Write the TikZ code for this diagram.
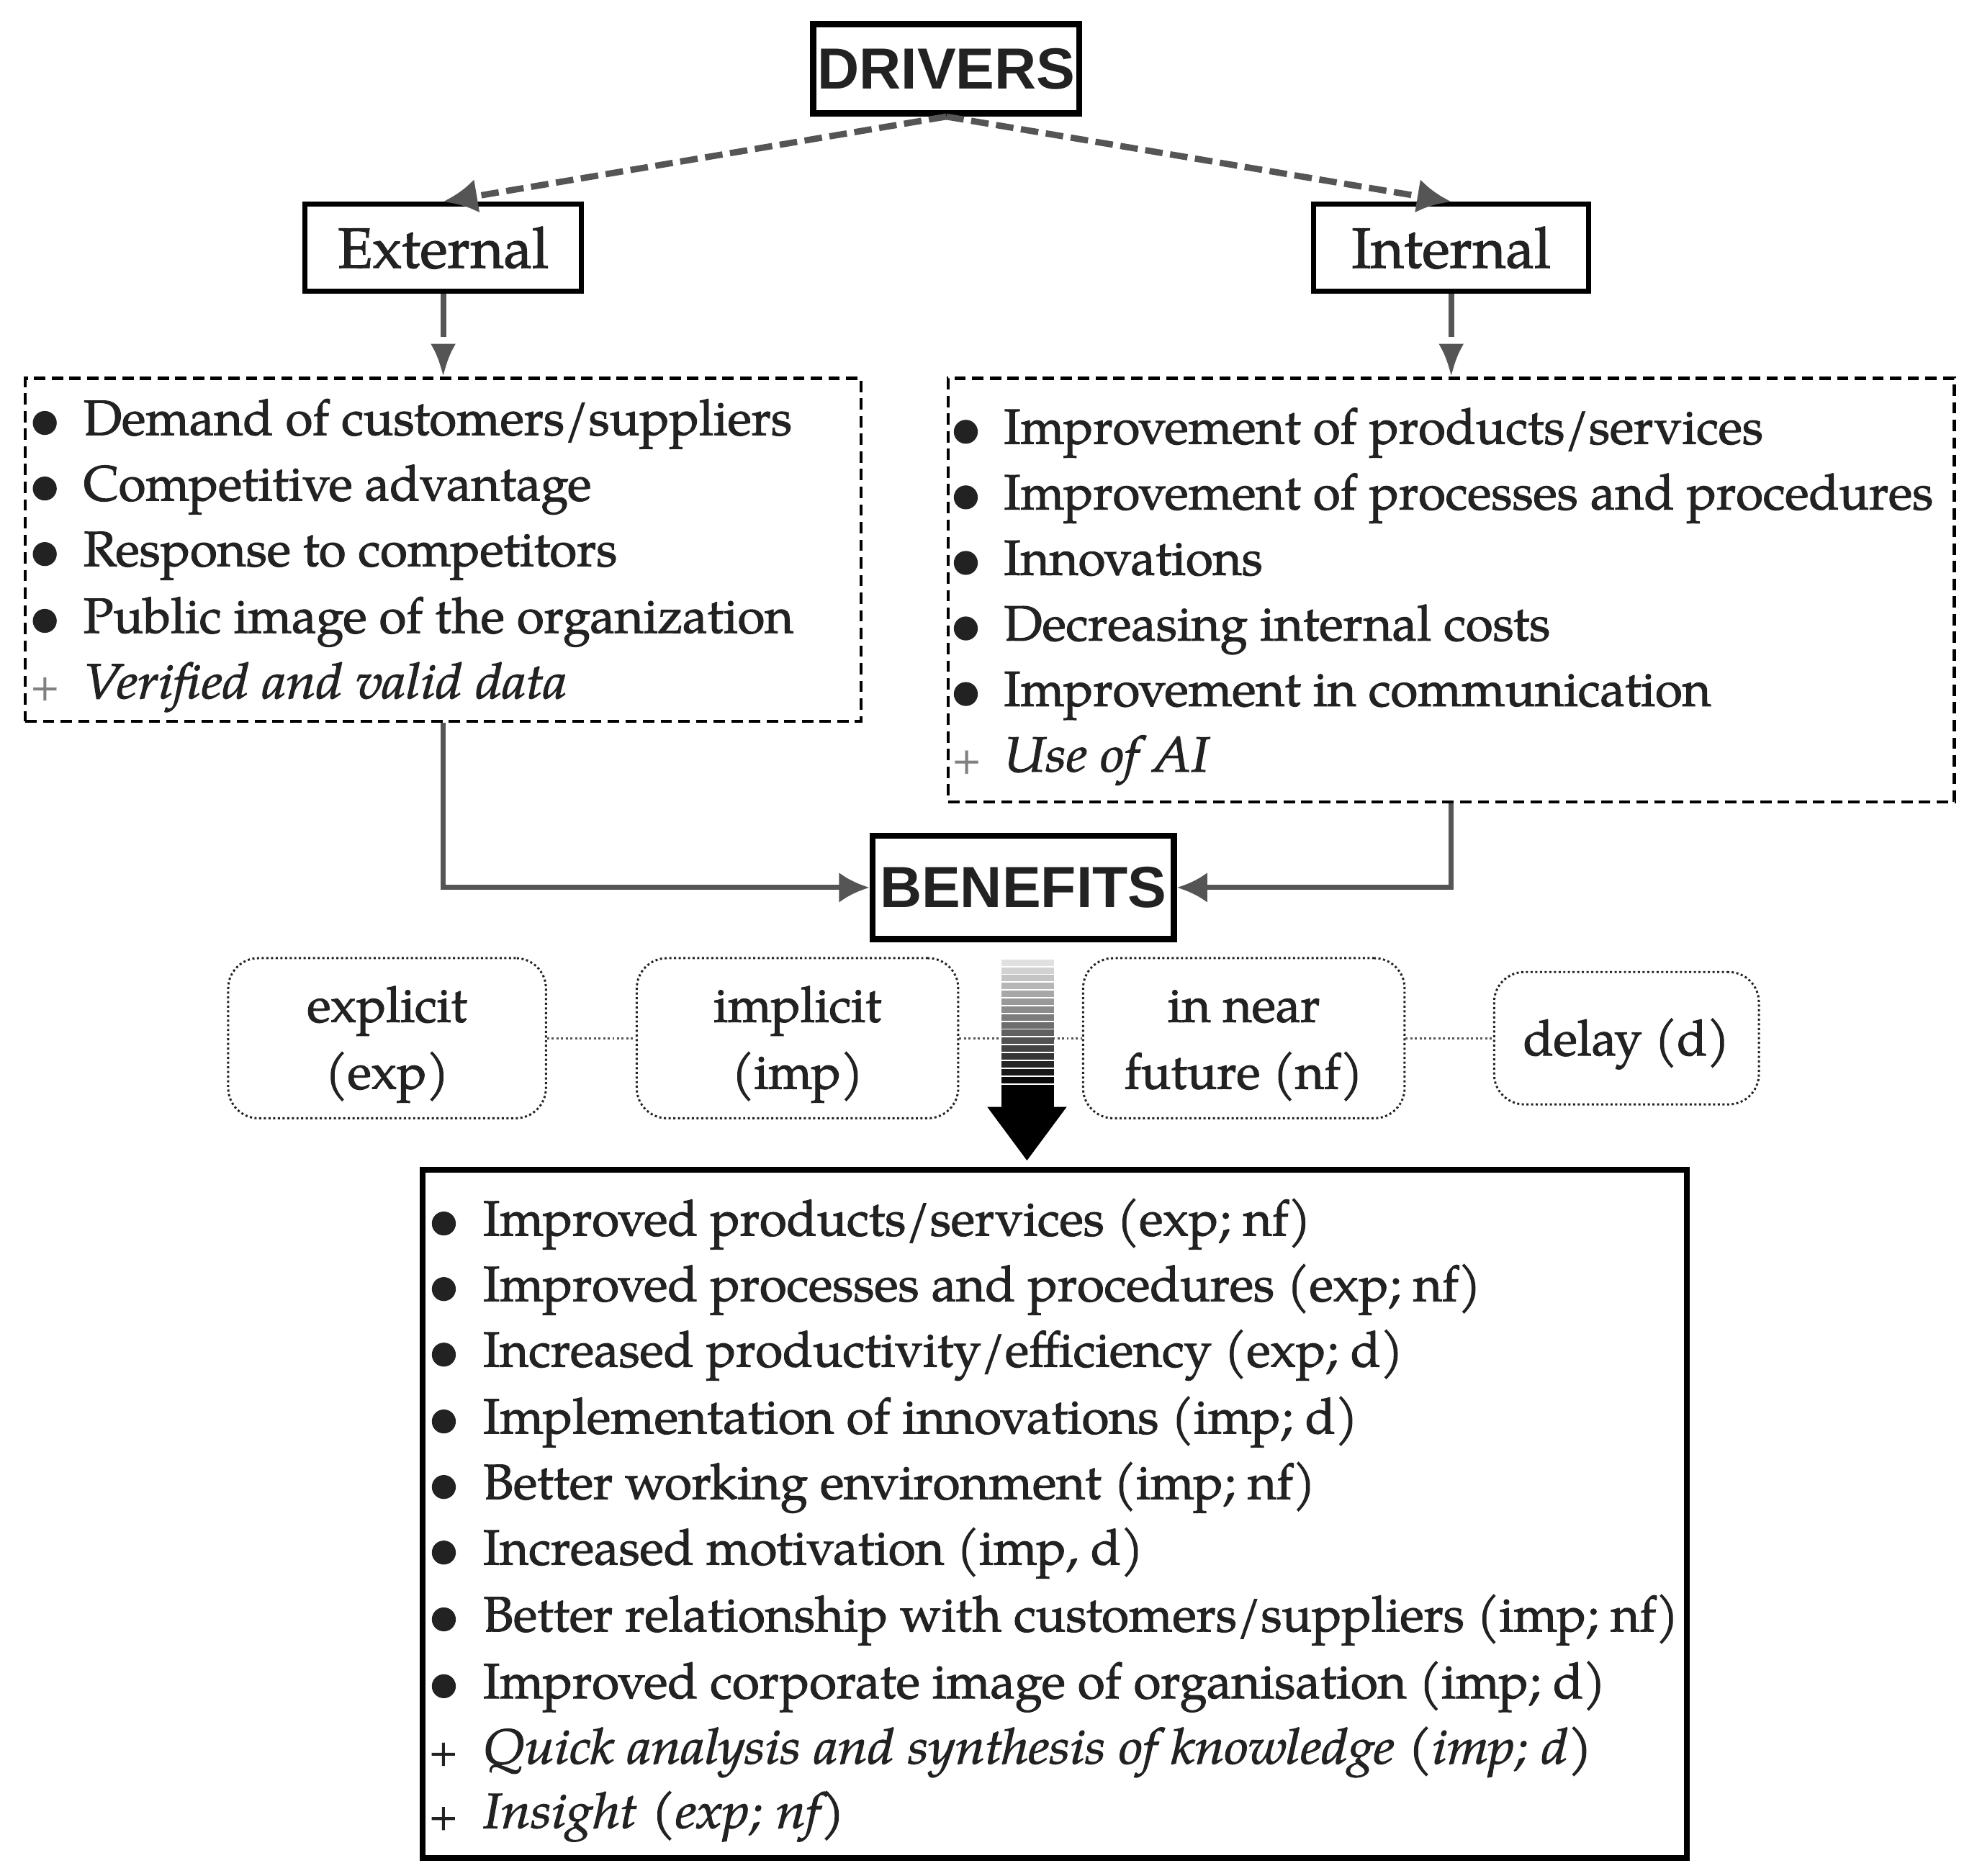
\documentclass[tikz,border=0pt]{standalone}
\usepackage{fontspec}
\setmainfont{TeX Gyre Pagella}[FakeBold=1.6,
  ItalicFeatures={FakeStretch=1.08, FakeBold=1.6}]
\newfontfamily\headfont{Liberation Sans}
\usetikzlibrary{arrows.meta}
\definecolor{txt}{HTML}{222222}
\definecolor{conn}{HTML}{555555}
\definecolor{plusc}{HTML}{808080}
\newcommand{\tagtext}[1]{\raisebox{-3pt}[\height][\depth]{\begin{tabular}{@{}c@{}}#1\end{tabular}}}
\tikzset{
  headbox/.style={draw=black, line width=5pt, fill=white, inner sep=0pt,
    font=\headfont\bfseries\fontsize{46}{50}\selectfont, text=txt},
  subbox/.style={draw=black, line width=4pt, fill=white, inner sep=0pt,
    font=\fontsize{45}{50}\selectfont, text=txt},
  listbox/.style={draw=black, line width=2.5pt, dash pattern=on 9pt off 5pt, inner sep=0pt},
  bigbox/.style={draw=black, line width=4.5pt, inner sep=0pt},
  itemtxt/.style={anchor=base west, inner sep=0pt, font=\fontsize{39.3}{40}\selectfont, text=txt},
  itemit/.style={itemtxt, font=\itshape\fontsize{39.3}{40}\selectfont},
  bul/.style={circle, fill=txt, inner sep=0pt, minimum size=19pt},
  plussign/.style={anchor=base west, inner sep=0pt, font=\fontsize{30}{30}\selectfont},
  tagbox/.style={draw=txt, line width=1.7pt, dotted, rounded corners=24pt, inner sep=0pt,
    align=center, font=\fontsize{39.3}{53}\selectfont, text=txt},
  tagline/.style={draw=conn, line width=1.7pt, dotted},
  dasharrow/.style={draw=conn, line width=5pt, dash pattern=on 14pt off 6pt,
    -{Latex[length=27pt,width=27pt]}},
  downarrow/.style={draw=conn, line width=4.5pt, dash pattern=on 34pt off 9pt,
    -{Latex[length=26pt,width=20pt]}},
  flowline/.style={draw=conn, line width=4pt, -{Latex[length=24pt,width=24pt]}}
}
\begin{document}
\begin{tikzpicture}[x=1pt,y=-1pt]
\useasboundingbox (0,0) rectangle (1568,1488);

% headers
\node[headbox, minimum width=211pt, minimum height=71pt] (drivers) at (750.5,54.5) {DRIVERS};
\node[subbox, minimum width=219pt, minimum height=69pt] (external) at (351.5,196.5) {External};
\node[subbox, minimum width=218pt, minimum height=69pt] (internal) at (1151,196.5) {Internal};

% list boxes
\node[listbox, minimum width=663pt, minimum height=272pt] (extlist) at (351.5,436) {};
\node[listbox, minimum width=798pt, minimum height=336pt] (intlist) at (1151,468) {};

% arrows from drivers
\draw[dasharrow] (drivers.south) -- (external.north);
\draw[dasharrow] (drivers.south) -- (internal.north);
\draw[downarrow] (external.south) -- (extlist.north);
\draw[downarrow] (internal.south) -- (intlist.north);

% external items
\foreach \y/\t [count=\i] in {345/{Demand of customers/suppliers}, 397/{Competitive advantage}, 449/{Response to competitors}, 502/{Public image of the organization}}{
  \node[bul] (eb\i) at (35.5,\y-9.5) {};
  \node[itemtxt] (et\i) at (66,\y) {\t};
}
\node[plussign, text=plusc] (ep) at (24,554) {+};
\node[itemit] (et5) at (66,554) {Verified and valid data};

% internal items
\foreach \y/\t [count=\i] in {352/{Improvement of products/services}, 404/{Improvement of processes and procedures}, 456/{Innovations}, 508/{Decreasing internal costs}, 560/{Improvement in communication}}{
  \node[bul] (ib\i) at (766,\y-9.5) {};
  \node[itemtxt] (it\i) at (796,\y) {\t};
}
\node[plussign, text=plusc] (ip) at (755,612) {+};
\node[itemit] (it6) at (796,612) {Use of AI};

% benefits
\node[headbox, minimum width=239pt, minimum height=82pt] (benefits) at (811.5,704) {BENEFITS};
\draw[flowline] (extlist.south) |- (benefits.west);
\draw[flowline] (intlist.south) |- (benefits.east);

% tags
\node[tagbox, minimum width=252pt, minimum height=127pt] (explicit) at (307,823.5) {\tagtext{explicit\\(exp)}};
\node[tagbox, minimum width=255pt, minimum height=127pt] (implicit) at (632.5,823.5) {\tagtext{implicit\\(imp)}};
\node[tagbox, minimum width=255pt, minimum height=127pt] (nearfuture) at (986.5,823.5) {\tagtext{in near\\future (nf)}};
\node[tagbox, minimum width=210pt, minimum height=105pt] (delay) at (1290,823.5) {\tagtext{delay (d)}};
\draw[tagline] (explicit.east) -- (implicit.west);
\draw[tagline] (implicit.east) -- (nearfuture.west);
\draw[tagline] (nearfuture.east) -- (delay.west);

% gradient arrow
\foreach \k in {0,...,15}{
  \pgfmathsetmacro{\pc}{12+\k*5.6}
  \pgfmathsetmacro{\ya}{761+\k*6.2}
  \fill[black!\pc] (794,\ya) rectangle (836,\ya+5.1);
}
\fill[black] (794,860.5) rectangle (836,879);
\fill[black] (783,878) -- (846,878) -- (814.5,920.5) -- cycle;

% benefits list
\node[bigbox, minimum width=1003pt, minimum height=546pt] (benlist) at (836.5,1201) {};
\foreach \y/\t [count=\i] in {
  980/{Improved products/services (exp; nf)},
  1032/{Improved processes and procedures (exp; nf)},
  1084/{Increased productivity/efficiency (exp; d)},
  1137/{Implementation of innovations (imp; d)},
  1189/{Better working environment (imp; nf)},
  1241/{Increased motivation (imp, d)},
  1294/{Better relationship with customers/suppliers (imp; nf)},
  1347/{Improved corporate image of organisation (imp; d)}}{
  \node[bul] (bb\i) at (352,\y-9.5) {};
  \node[itemtxt] (bt\i) at (383,\y) {\t};
}
\node[plussign, text=txt] (bp1) at (340,1399) {+};
\node[itemit] (bt9) at (383,1399) {Quick analysis and synthesis of knowledge (imp; d)};
\node[plussign, text=txt] (bp2) at (340,1450) {+};
\node[itemit] (bt10) at (383,1450) {Insight (exp; nf)};
\end{tikzpicture}
\end{document}
